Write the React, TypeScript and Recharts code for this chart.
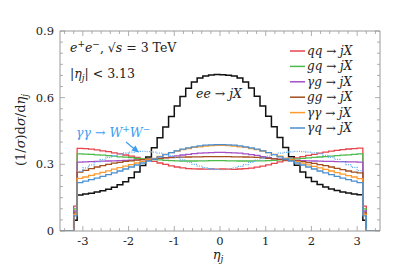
// Normalised jet pseudorapidity distributions, e+e- at 3 TeV
import { LineChart, Line, XAxis, YAxis } from "recharts";

const W = 399;
const H = 266;
const PLOT = { left: 60, right: 380, top: 31, bottom: 231 };
const FONT = "DejaVu Serif";
const AXIS = "#9a9a9a";

// bin low edges, width 0.125, |eta| < 3.125
const BIN_WIDTH = 0.125;
const FIRST_EDGE = -3.125;
const N_BINS = 50;

const eeVals = [
  0.162, 0.166, 0.170, 0.175, 0.181, 0.188, 0.197, 0.208, 0.222, 0.240, 0.265, 0.295, 0.333,
  0.375, 0.420, 0.468, 0.515, 0.562, 0.605, 0.642, 0.670, 0.688, 0.698, 0.702, 0.704,
  0.703, 0.701, 0.697, 0.689, 0.671, 0.643, 0.606, 0.563, 0.516, 0.469, 0.421, 0.376, 0.334,
  0.296, 0.266, 0.241, 0.223, 0.209, 0.198, 0.189, 0.182, 0.176, 0.171, 0.167, 0.163,
];
const qqVals = [
  0.372, 0.371, 0.368, 0.365, 0.361, 0.357, 0.352, 0.347, 0.342, 0.337, 0.331, 0.325, 0.319,
  0.313, 0.306, 0.300, 0.293, 0.288, 0.284, 0.281, 0.280, 0.279, 0.278, 0.279, 0.278,
  0.279, 0.278, 0.277, 0.279, 0.281, 0.283, 0.287, 0.292, 0.298, 0.304, 0.311, 0.317, 0.323,
  0.329, 0.335, 0.340, 0.345, 0.350, 0.355, 0.359, 0.363, 0.366, 0.369, 0.371, 0.373,
];
const gqVals = [
  0.347, 0.346, 0.345, 0.343, 0.341, 0.339, 0.337, 0.334, 0.332, 0.330, 0.327, 0.325, 0.323,
  0.321, 0.320, 0.318, 0.317, 0.316, 0.315, 0.315, 0.315, 0.316, 0.316, 0.317, 0.317,
  0.317, 0.316, 0.316, 0.315, 0.315, 0.315, 0.316, 0.316, 0.317, 0.318, 0.320, 0.321, 0.323,
  0.325, 0.327, 0.329, 0.331, 0.333, 0.335, 0.337, 0.339, 0.341, 0.343, 0.345, 0.347,
];
const agVals = [
  0.310, 0.311, 0.312, 0.313, 0.314, 0.315, 0.316, 0.317, 0.318, 0.319, 0.320, 0.321, 0.322,
  0.324, 0.327, 0.330, 0.334, 0.338, 0.342, 0.345, 0.348, 0.350, 0.352, 0.353, 0.354,
  0.354, 0.353, 0.352, 0.350, 0.347, 0.344, 0.340, 0.335, 0.330, 0.326, 0.323, 0.321, 0.319,
  0.318, 0.317, 0.316, 0.315, 0.314, 0.313, 0.313, 0.312, 0.312, 0.311, 0.311, 0.310,
];
const ggVals = [
  0.265, 0.273, 0.281, 0.288, 0.294, 0.300, 0.305, 0.309, 0.313, 0.316, 0.319, 0.321, 0.323,
  0.325, 0.327, 0.329, 0.330, 0.331, 0.332, 0.333, 0.334, 0.334, 0.335, 0.335, 0.335,
  0.335, 0.335, 0.334, 0.334, 0.333, 0.332, 0.331, 0.329, 0.327, 0.325, 0.322, 0.320, 0.318,
  0.315, 0.312, 0.308, 0.304, 0.299, 0.294, 0.288, 0.282, 0.276, 0.270, 0.265, 0.262,
];
const aaVals = [
  0.237, 0.243, 0.250, 0.257, 0.264, 0.271, 0.278, 0.285, 0.292, 0.299, 0.306, 0.313, 0.320,
  0.327, 0.336, 0.345, 0.353, 0.360, 0.366, 0.371, 0.376, 0.379, 0.382, 0.384, 0.385,
  0.385, 0.384, 0.382, 0.379, 0.376, 0.371, 0.366, 0.360, 0.353, 0.345, 0.337, 0.328, 0.320,
  0.312, 0.305, 0.298, 0.291, 0.284, 0.277, 0.270, 0.263, 0.256, 0.249, 0.243, 0.236,
];
const aqVals = [
  0.218, 0.224, 0.231, 0.238, 0.246, 0.254, 0.262, 0.270, 0.279, 0.288, 0.297, 0.306, 0.315,
  0.324, 0.334, 0.344, 0.353, 0.361, 0.368, 0.374, 0.379, 0.383, 0.386, 0.388, 0.389,
  0.389, 0.388, 0.386, 0.383, 0.379, 0.374, 0.368, 0.361, 0.353, 0.344, 0.334, 0.324, 0.315,
  0.306, 0.297, 0.288, 0.279, 0.270, 0.262, 0.254, 0.246, 0.238, 0.231, 0.224, 0.218,
];
const wwVals = [
  0.268, 0.284, 0.298, 0.311, 0.321, 0.331, 0.339, 0.346, 0.351, 0.355, 0.357, 0.358, 0.357,
  0.355, 0.350, 0.345, 0.338, 0.330, 0.320, 0.310, 0.300, 0.292, 0.285, 0.280, 0.277,
  0.276, 0.279, 0.284, 0.291, 0.299, 0.309, 0.319, 0.329, 0.337, 0.344, 0.350, 0.354, 0.356,
  0.358, 0.357, 0.355, 0.352, 0.347, 0.340, 0.332, 0.322, 0.311, 0.299, 0.286, 0.272,
];

// partially filled outer bin just past the cut
const EDGE_LO = -3.2;
const EDGE_HI = 3.2;
const edgeVals: Record<string, number> = {
  ee: 0.048, qq: 0.112, gq: 0.1, ag: 0.09, gg: 0.082, aa: 0.075, aq: 0.068,
};

const series = [
  { key: "ee", vals: eeVals, color: "#111111", width: 1.5 },
  { key: "qq", vals: qqVals, color: "#e8444c", width: 1.3 },
  { key: "gq", vals: gqVals, color: "#4cbb4c", width: 1.3 },
  { key: "ag", vals: agVals, color: "#a54fc8", width: 1.3 },
  { key: "gg", vals: ggVals, color: "#a34e1c", width: 1.3 },
  { key: "aa", vals: aaVals, color: "#ff9a2c", width: 1.3 },
  { key: "aq", vals: aqVals, color: "#4a8fd0", width: 1.3 },
];

const legendItems = [
  { a: "qq", color: "#e8444c" },
  { a: "gq", color: "#4cbb4c" },
  { a: "γg", color: "#a54fc8" },
  { a: "gg", color: "#a34e1c" },
  { a: "γγ", color: "#ff9a2c" },
  { a: "γq", color: "#4a8fd0" },
];

const xTicks = [
  -3.4, -3.2, -3, -2.8, -2.6, -2.4, -2.2, -2, -1.8, -1.6, -1.4, -1.2, -1, -0.8, -0.6, -0.4, -0.2,
  0, 0.2, 0.4, 0.6, 0.8, 1, 1.2, 1.4, 1.6, 1.8, 2, 2.2, 2.4, 2.6, 2.8, 3, 3.2, 3.4,
];
const xMajor = [-3, -2, -1, 0, 1, 2, 3];
const yTicks = [
  0, 0.05, 0.1, 0.15, 0.2, 0.25, 0.3, 0.35, 0.4, 0.45, 0.5, 0.55, 0.6, 0.65, 0.7, 0.75, 0.8, 0.85, 0.9,
];
const yMajor = [0, 0.3, 0.6, 0.9];

const isMajor = (v: number, list: number[]) => list.some((m) => Math.abs(m - v) < 1e-6);

// build step rows
const data: any[] = [];
{
  const r0: any = { x: -3.5 };
  const r1: any = { x: EDGE_LO };
  series.forEach((s) => { r0[s.key] = 0; r1[s.key] = edgeVals[s.key]; });
  data.push(r0, r1);
  for (let i = 0; i < N_BINS; i++) {
    const row: any = { x: FIRST_EDGE + i * BIN_WIDTH };
    series.forEach((s) => { row[s.key] = s.vals[i]; });
    row.ww = wwVals[i];
    data.push(row);
  }
  const r2: any = { x: -FIRST_EDGE, ww: wwVals[N_BINS - 1] };
  const r3: any = { x: EDGE_HI };
  const r4: any = { x: 3.5 };
  series.forEach((s) => { r2[s.key] = edgeVals[s.key]; r3[s.key] = 0; r4[s.key] = 0; });
  data.push(r2, r3, r4);
}

const txt = { fontFamily: FONT };

const BottomTick = (p: any) => {
  const v = p.payload.value;
  const major = isMajor(v, xMajor);
  return (
    <g>
      <line x1={p.x} x2={p.x} y1={PLOT.bottom} y2={PLOT.bottom - (major ? 5 : 3)} stroke={AXIS} strokeWidth={0.8} />
      {major && (
        <text x={p.x} y={PLOT.bottom + 14} textAnchor="middle" style={txt} fontSize={11.5} fill="#222">
          {v < 0 ? `-${-v}` : `${v}`}
        </text>
      )}
    </g>
  );
};

const TopTick = (p: any) => {
  const major = isMajor(p.payload.value, xMajor);
  return <line x1={p.x} x2={p.x} y1={PLOT.top} y2={PLOT.top + (major ? 5 : 3)} stroke={AXIS} strokeWidth={0.8} />;
};

const LeftTick = (p: any) => {
  const v = p.payload.value;
  const major = isMajor(v, yMajor);
  return (
    <g>
      <line x1={PLOT.left} x2={PLOT.left + (major ? 5 : 3)} y1={p.y} y2={p.y} stroke={AXIS} strokeWidth={0.8} />
      {major && (
        <text x={PLOT.left - 6} y={p.y + 4} textAnchor="end" style={txt} fontSize={11.5} fill="#222">
          {v === 0 ? "0" : v.toFixed(1)}
        </text>
      )}
    </g>
  );
};

const RightTick = (p: any) => {
  const major = isMajor(p.payload.value, yMajor);
  return <line x1={PLOT.right} x2={PLOT.right - (major ? 5 : 3)} y1={p.y} y2={p.y} stroke={AXIS} strokeWidth={0.8} />;
};

const I = ({ children }: { children: any }) => <tspan fontStyle="italic">{children}</tspan>;

export default function App() {
  return (
    <div style={{ position: "absolute", left: 0, top: 0, width: W, height: H, background: "#fff" }}>
      <LineChart
        width={W}
        height={H}
        data={data}
        margin={{ top: PLOT.top - 1, right: W - PLOT.right - 1, bottom: H - PLOT.bottom - 1, left: PLOT.left - 1 }}
      >
        <XAxis
          dataKey="x"
          type="number"
          domain={[-3.5, 3.5]}
          ticks={xTicks}
          interval={0}
          height={1}
          tickLine={false}
          axisLine={{ stroke: AXIS }}
          tick={<BottomTick />}
          allowDataOverflow
        />
        <XAxis
          xAxisId="top"
          orientation="top"
          dataKey="x"
          type="number"
          domain={[-3.5, 3.5]}
          ticks={xTicks}
          interval={0}
          height={1}
          tickLine={false}
          axisLine={{ stroke: AXIS }}
          tick={<TopTick />}
          allowDataOverflow
        />
        <YAxis
          type="number"
          domain={[0, 0.9]}
          ticks={yTicks}
          interval={0}
          width={1}
          tickLine={false}
          axisLine={{ stroke: AXIS }}
          tick={<LeftTick />}
          allowDataOverflow
        />
        <YAxis
          yAxisId="right"
          orientation="right"
          type="number"
          domain={[0, 0.9]}
          ticks={yTicks}
          interval={0}
          width={1}
          tickLine={false}
          axisLine={{ stroke: AXIS }}
          tick={<RightTick />}
          allowDataOverflow
        />
        {series.map((s) => (
          <Line
            key={s.key}
            type="stepAfter"
            dataKey={s.key}
            stroke={s.color}
            strokeWidth={s.width}
            dot={false}
            activeDot={false}
            isAnimationActive={false}
          />
        ))}
        <Line
          type="stepAfter"
          dataKey="ww"
          stroke="#5aabf5"
          strokeWidth={1.3}
          strokeDasharray="1 1.3"
          dot={false}
          activeDot={false}
          connectNulls={false}
          isAnimationActive={false}
        />
      </LineChart>

      <svg
        width={W}
        height={H}
        style={{ position: "absolute", left: 0, top: 0, pointerEvents: "none", fontFamily: FONT }}
      >
        {/* y label */}
        <text transform="translate(25,130) rotate(-90)" textAnchor="middle" fontSize={13} fill="#222">
          (1/<I>σ</I>)d<I>σ</I>/d<I>η</I>
          <tspan fontStyle="italic" fontSize={9} dy={3}>j</tspan>
        </text>
        {/* x label */}
        <text x={218} y={259} textAnchor="middle" fontSize={13} fill="#222">
          <I>η</I>
          <tspan fontStyle="italic" fontSize={9} dy={3}>j</tspan>
        </text>

        {/* process annotations */}
        <text x={70} y={52} fontSize={12.5} fill="#222">
          <I>e</I>
          <tspan fontSize={9} dy={-5}>+</tspan>
          <tspan fontStyle="italic" dy={5}>e</tspan>
          <tspan fontSize={9} dy={-5}>−</tspan>
          <tspan dy={5}>, √</tspan>
          <I>s</I>
          <tspan> = 3 TeV</tspan>
        </text>
        <text x={70} y={78} fontSize={12.5} fill="#222">
          |<I>η</I>
          <tspan fontStyle="italic" fontSize={9} dy={3}>j</tspan>
          <tspan dy={-3}>| &lt; 3.13</tspan>
        </text>
        <text x={196} y={98} fontSize={12.5} fill="#222">
          <I>ee</I> → <I>jX</I>
        </text>

        <text x={76} y={137} fontSize={12.5} fill="#3d9df2">
          <I>γγ</I> → <I>W</I>
          <tspan fontSize={9} dy={-5}>+</tspan>
          <tspan fontStyle="italic" dy={5}>W</tspan>
          <tspan fontSize={9} dy={-5}>−</tspan>
        </text>
        <line x1={126} y1={142} x2={135} y2={149.5} stroke="#3d9df2" strokeWidth={1.2} />
        <polygon points="139,152.5 131.5,150.5 135.5,145.5" fill="#3d9df2" />

        {/* legend */}
        {legendItems.map((it, i) => {
          const y = 51 + i * 15.4;
          return (
            <g key={it.a}>
              <line x1={290} x2={305} y1={y} y2={y} stroke={it.color} strokeWidth={1.5} />
              <text x={307} y={y + 4} fontSize={12} fill="#222">
                <I>{it.a}</I> → <I>jX</I>
              </text>
            </g>
          );
        })}
      </svg>
    </div>
  );
}
